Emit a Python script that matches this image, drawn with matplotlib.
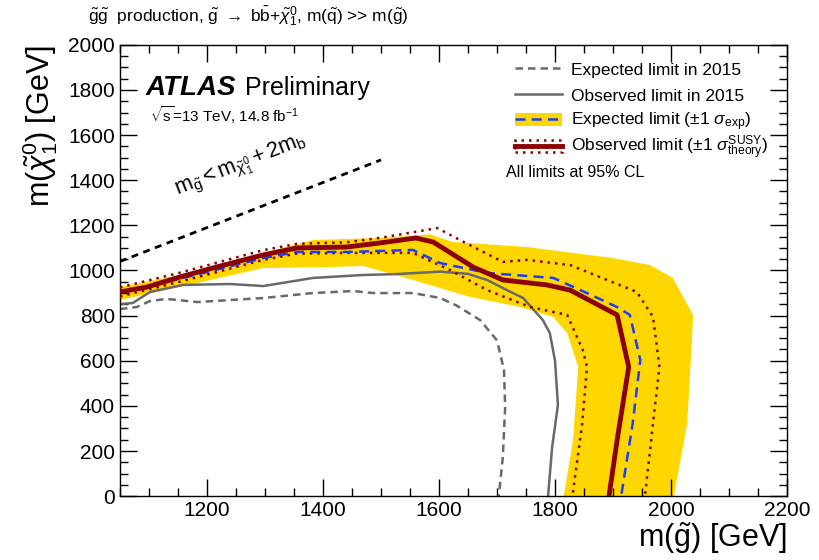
import numpy as np
import matplotlib
matplotlib.use("Agg")
import matplotlib.pyplot as plt
from matplotlib.lines import Line2D
from matplotlib.patches import Patch, Rectangle
from matplotlib.legend import Legend
from matplotlib.legend_handler import HandlerPatch

plt.rcParams['font.family'] = ['Liberation Sans', 'DejaVu Sans']
plt.rcParams['mathtext.fontset'] = 'custom'
plt.rcParams['mathtext.rm'] = 'Liberation Sans'
plt.rcParams['mathtext.it'] = 'Liberation Sans:italic'
plt.rcParams['mathtext.bf'] = 'Liberation Sans:bold'

# limit contours, m(gluino) vs m(neutralino) in GeV
exp15_x = [1050, 1079, 1102, 1131, 1183, 1240, 1297, 1383, 1452, 1486, 1555, 1602, 1630, 1671, 1700, 1712, 1714, 1710, 1703]
exp15_y = [829, 838, 865, 874, 860, 869, 878, 900, 909, 900, 900, 878, 845, 780, 690, 560, 395, 173, 0]

obs15_x = [1050, 1072, 1102, 1159, 1240, 1297, 1383, 1469, 1527, 1602, 1650, 1683, 1717, 1745, 1779, 1791, 1800, 1805, 1795, 1788]
obs15_y = [851, 856, 905, 936, 940, 931, 967, 980, 984, 995, 985, 958, 913, 878, 780, 723, 600, 404, 217, 0]

exp_x = [1050, 1153, 1297, 1355, 1441, 1555, 1602, 1683, 1797, 1855, 1907, 1929, 1947, 1934, 1914]
exp_y = [900, 963, 1055, 1082, 1082, 1091, 1033, 989, 967, 900, 838, 803, 603, 324, 0]

band_up_x = [1050, 1153, 1383, 1498, 1584, 1624, 1752, 1900, 1964, 2003, 2038, 2036, 2028, 2005]
band_up_y = [927, 980, 1135, 1144, 1160, 1126, 1104, 1055, 1024, 967, 803, 692, 324, 0]
band_dn_x = [1050, 1153, 1297, 1412, 1469, 1555, 1602, 1653, 1740, 1797, 1821, 1840, 1831, 1815]
band_dn_y = [869, 927, 1011, 1015, 1020, 958, 922, 883, 838, 794, 723, 572, 248, 0]

obs_x = [1050, 1097, 1153, 1210, 1297, 1355, 1441, 1498, 1560, 1590, 1659, 1710, 1786, 1826, 1907, 1927, 1907, 1893]
obs_y = [905, 927, 971, 1011, 1069, 1100, 1104, 1122, 1144, 1126, 1015, 958, 936, 913, 803, 572, 248, 0]

obs_up_x = [1050, 1153, 1297, 1355, 1441, 1500, 1597, 1636, 1710, 1752, 1826, 1941, 1969, 1980, 1969, 1955]
obs_up_y = [925, 990, 1090, 1118, 1125, 1145, 1188, 1135, 1038, 1047, 1024, 905, 794, 572, 324, 0]
obs_dn_x = [1050, 1153, 1297, 1355, 1441, 1555, 1619, 1683, 1757, 1821, 1848, 1855, 1847, 1830]
obs_dn_y = [885, 950, 1047, 1075, 1078, 1078, 1002, 913, 838, 803, 647, 572, 324, 0]

# kinematic boundary m_chi = m_gluino - 2 m_b
kin_x = [1050, 1500]
kin_y = [1040, 1490]

legend_labels = ['Expected limit in 2015',
                 'Observed limit in 2015',
                 r'Expected limit ($\pm$1 $\sigma_{\mathrm{exp}}$)',
                 r'Observed limit ($\pm$1 $\sigma^{\mathrm{SUSY}}_{\mathrm{theory}}$)']

yellow = '#ffd700'
darkred = '#8b0000'
blue = '#1a3cff'
gray = '#696969'

fig = plt.figure(figsize=(8.19, 5.6), dpi=100)
ax = fig.add_axes([0.1465, 0.114, 0.8145, 0.806])

ax.fill(np.concatenate([band_up_x, band_dn_x[::-1]]),
        np.concatenate([band_up_y, band_dn_y[::-1]]),
        color=yellow, lw=0, zorder=1)
ax.plot(exp15_x, exp15_y, color=gray, ls=(0, (3, 2)), lw=1.8, zorder=2)
ax.plot(obs15_x, obs15_y, color=gray, ls='-', lw=1.8, zorder=2)
ax.plot(obs_up_x, obs_up_y, color=darkred, ls=(0, (1, 2)), lw=1.8, zorder=3)
ax.plot(obs_dn_x, obs_dn_y, color=darkred, ls=(0, (1, 2)), lw=1.8, zorder=3)
ax.plot(exp_x, exp_y, color=blue, ls=(0, (4, 2.5)), lw=1.8, zorder=4)
ax.plot(obs_x, obs_y, color=darkred, ls='-', lw=3.5, zorder=5)
ax.plot(kin_x, kin_y, color='black', ls=(0, (2.5, 2)), lw=2, zorder=2)

ax.text(1258, 1465, r'$\mathrm{m}_{\tilde{\mathrm{g}}} < \mathrm{m}_{\tilde{\chi}^{0}_{1}} + 2\mathrm{m}_{\mathrm{b}}$',
        fontsize=15.5, rotation=21.5, rotation_mode='anchor', ha='center', va='center')

ax.set_xlim(1050, 2200)
ax.set_ylim(0, 2000)
ax.set_xticks(np.arange(1200, 2201, 200))
ax.set_xticks(np.arange(1050, 2201, 50), minor=True)
ax.set_yticks(np.arange(0, 2001, 200))
ax.set_yticks(np.arange(0, 2001, 50), minor=True)
ax.tick_params(which='both', direction='in', top=True, right=True, labelsize=15, width=1)
ax.tick_params(which='major', length=12)
ax.tick_params(which='minor', length=6)
for s in ax.spines.values():
    s.set_linewidth(1)

ax.set_xlabel(r'm($\tilde{\mathrm{g}}$) [GeV]', fontsize=22, loc='right', labelpad=0)
ax.set_ylabel(r'm($\tilde{\chi}^{0}_{1}$) [GeV]', fontsize=22, loc='top', labelpad=6)

fig.text(0.107, 0.972, r'$\tilde{\mathrm{g}}\tilde{\mathrm{g}}$  production, $\tilde{\mathrm{g}}$ $\rightarrow$ '
         r'$\mathrm{b}\bar{\mathrm{b}}$+$\tilde{\chi}^{0}_{1}$, m($\tilde{\mathrm{q}}$) >> m($\tilde{\mathrm{g}}$)',
         fontsize=12.5, ha='left', va='center')

ax.text(0.038, 0.905, 'ATLAS', transform=ax.transAxes, fontsize=20,
        fontweight='bold', fontstyle='italic', va='center')
ax.text(0.188, 0.905, 'Preliminary', transform=ax.transAxes, fontsize=18, va='center')
ax.text(0.045, 0.845, r'$\sqrt{\mathrm{s}}$=13 TeV, 14.8 fb$^{-1}$', transform=ax.transAxes,
        fontsize=11, va='center')


def short_box(legend, orig_handle, xdescent, ydescent, width, height, fontsize):
    # band box a bit lower than the text row
    h = 0.9 * height
    return Rectangle((-xdescent, -ydescent + (height - h) / 2), width, h)


handles = [
    Line2D([], [], color=gray, ls=(0, (3, 2)), lw=1.8),
    Line2D([], [], color=gray, ls='-', lw=1.8),
    (Patch(facecolor=yellow, edgecolor='none'),
     Line2D([], [], color=blue, ls=(0, (4, 2.5)), lw=1.8)),
    (Patch(facecolor='none', edgecolor=darkred, ls=(0, (1, 2)), lw=1.8),
     Line2D([], [], color=darkred, ls='-', lw=3.5)),
]

# one legend per row so the rows stay evenly spaced
row_y = [0.945, 0.887, 0.829, 0.771]
for h, lab, yy in zip(handles, legend_labels, row_y):
    leg = Legend(ax, [h], [lab], loc='center left', bbox_to_anchor=(0.592, yy),
                 frameon=False, fontsize=12.5, handlelength=2.7, handleheight=0.85,
                 handletextpad=0.55, borderaxespad=0, borderpad=0,
                 handler_map={Patch: HandlerPatch(patch_func=short_box)})
    ax.add_artist(leg)
ax.text(0.578, 0.718, 'All limits at 95% CL', transform=ax.transAxes, fontsize=11.5, va='center')

fig.savefig('out.png', dpi=100)
